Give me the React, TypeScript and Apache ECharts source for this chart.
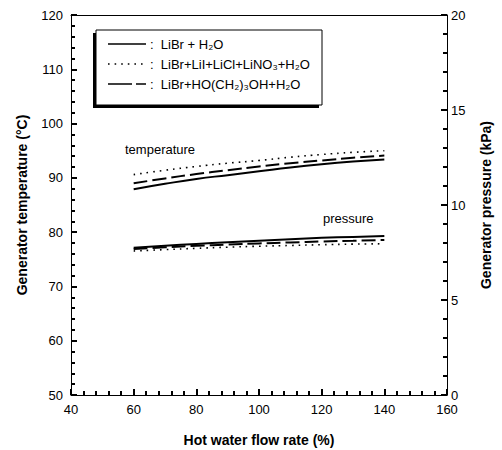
import React, { useEffect, useRef } from "react";
import * as echarts from "echarts";

const flowRates = [60, 70, 80, 90, 100, 110, 120, 130, 140];
const tempLiBr = [87.9, 88.9, 89.8, 90.5, 91.2, 91.9, 92.5, 93.0, 93.4];
const tempLiBrLiI = [90.6, 91.4, 92.1, 92.7, 93.2, 93.8, 94.3, 94.7, 95.0];
const tempLiBrPG = [89.0, 89.9, 90.7, 91.4, 92.1, 92.7, 93.2, 93.7, 94.1];
const presLiBr = [7.75, 7.86, 7.95, 8.04, 8.12, 8.2, 8.27, 8.32, 8.37];
const presLiBrLiI = [7.58, 7.65, 7.72, 7.78, 7.83, 7.87, 7.91, 7.94, 7.96];
const presLiBrPG = [7.68, 7.77, 7.85, 7.92, 7.98, 8.03, 8.08, 8.12, 8.16];

const seriesNames = [
  "LiBr + H₂O",
  "LiBr+LiI+LiCl+LiNO₃+H₂O",
  "LiBr+HO(CH₂)₃OH+H₂O",
];
const xAxisTitle = "Hot water flow rate (%)";
const leftAxisTitle = "Generator temperature (°C)";
const rightAxisTitle = "Generator pressure (kPa)";

const FONT = "'Liberation Sans', Arial, sans-serif";

const pairs = (ys: number[]) => flowRates.map((x, i) => [x, ys[i]]);

export default function App() {
  const ref = useRef<HTMLDivElement>(null);
  useEffect(() => {
    if (!ref.current) return;
    const chart = echarts.init(ref.current, undefined, { renderer: "svg" });
    const lineStyles: any[] = [
      { color: "#000", width: 2, type: "solid" },
      { color: "#000", width: 1.6, type: [1.6, 5] },
      { color: "#000", width: 2, type: [14, 5] },
    ];
    const mk = (name: string, data: number[], idx: number, yAxisIndex: number) => ({
      name,
      type: "line",
      yAxisIndex,
      smooth: true,
      showSymbol: false,
      symbol: "none",
      lineStyle: lineStyles[idx],
      data: pairs(data),
    });
    const tickStyles = () => ({
      axisLine: { show: true, lineStyle: { color: "#000" } },
      axisTick: { show: true, inside: false, length: -6, lineStyle: { color: "#000", width: 2 } },
      minorTick: { show: true, splitNumber: 5, length: -4, lineStyle: { color: "#000", width: 2 } },
      splitLine: { show: false },
    });
    const labelStyle = (margin: number) => ({ color: "#000", fontSize: 13, fontFamily: FONT, margin });
    const nameFont = "bold 14px " + FONT;
    const legendY = [44, 64, 84];
    const legendGraphics: any[] = [];
    legendY.forEach((y, i) => {
      legendGraphics.push({
        type: "line",
        shape: { x1: 108, y1: y, x2: 146, y2: y },
        style: {
          stroke: "#000",
          lineWidth: i === 1 ? 1.6 : 1.5,
          lineDash: i === 0 ? null : i === 1 ? [1.6, 5] : [24, 4, 8, 0],
        },
      });
      legendGraphics.push({
        type: "text",
        x: 150,
        y,
        style: {
          text: ":  " + seriesNames[i],
          fill: "#000",
          font: "13px " + FONT,
          verticalAlign: "middle",
        },
      });
    });
    chart.setOption({
      animation: false,
      grid: { left: 71, right: 55, top: 15, bottom: 55 },
      xAxis: [
        {
          type: "value",
          min: 40,
          max: 160,
          interval: 20,
          ...tickStyles(),
          axisLabel: labelStyle(8),
        },
        {
          type: "value",
          position: "top",
          min: 40,
          max: 160,
          interval: 20,
          axisLine: { show: true, lineStyle: { color: "#000" } },
          axisTick: { show: false },
          minorTick: { show: false },
          axisLabel: { show: false },
          splitLine: { show: false },
        },
      ],
      yAxis: [
        {
          type: "value",
          min: 50,
          max: 120,
          interval: 10,
          ...tickStyles(),
          axisLabel: labelStyle(8),
        },
        {
          type: "value",
          position: "right",
          min: 0,
          max: 20,
          interval: 5,
          ...tickStyles(),
          axisLabel: labelStyle(4),
        },
      ],
      series: [
        mk(seriesNames[0], tempLiBr, 0, 0),
        mk(seriesNames[1], tempLiBrLiI, 1, 0),
        mk(seriesNames[2], tempLiBrPG, 2, 0),
        mk(seriesNames[0], presLiBr, 0, 1),
        mk(seriesNames[1], presLiBrLiI, 1, 1),
        mk(seriesNames[2], presLiBrPG, 2, 1),
      ],
      graphic: [
        { type: "rect", shape: { x: 93, y: 33, width: 226, height: 75 }, style: { fill: "#000" } },
        { type: "rect", shape: { x: 96, y: 30, width: 226, height: 75 }, style: { fill: "#fff", stroke: "#000", lineWidth: 1 } },
        ...legendGraphics,
        {
          type: "text",
          x: 125,
          y: 149,
          style: { text: "temperature", fill: "#000", font: "13px " + FONT, verticalAlign: "middle" },
        },
        {
          type: "text",
          x: 323,
          y: 218,
          style: { text: "pressure", fill: "#000", font: "13px " + FONT, verticalAlign: "middle" },
        },
        {
          type: "text",
          x: 259,
          y: 440,
          style: { text: xAxisTitle, fill: "#000", font: nameFont, align: "center", verticalAlign: "middle" },
        },
        {
          type: "text",
          x: 22,
          y: 205,
          rotation: Math.PI / 2,
          style: { text: leftAxisTitle, fill: "#000", font: nameFont, align: "center", verticalAlign: "middle" },
        },
        {
          type: "text",
          x: 486,
          y: 205,
          rotation: Math.PI / 2,
          style: { text: rightAxisTitle, fill: "#000", font: nameFont, align: "center", verticalAlign: "middle" },
        },
      ],
    });
    return () => chart.dispose();
  }, []);
  return (
    <div
      ref={ref}
      style={{ position: "fixed", left: 0, top: 0, width: 502, height: 450, background: "#fff" }}
    />
  );
}
